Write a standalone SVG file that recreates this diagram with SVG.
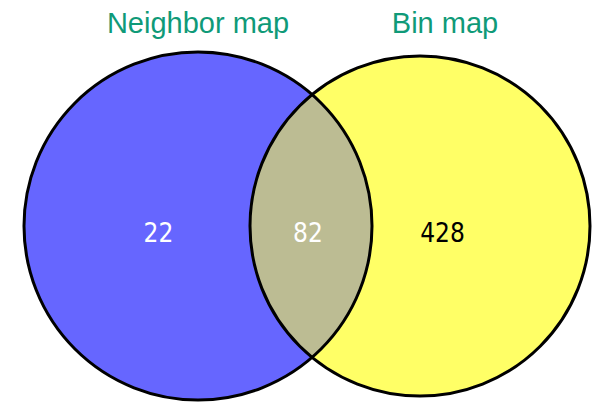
<svg xmlns="http://www.w3.org/2000/svg" width="592" height="403" viewBox="0 0 592 403">
<style>
.title{font-family:"Liberation Sans",Arial,sans-serif;font-size:29px;fill:#0f9a78;text-anchor:middle}
.num{font-family:"DejaVu Sans Condensed","DejaVu Sans",sans-serif;font-stretch:condensed;font-size:26px;text-anchor:middle}
.edge{fill:none;stroke:#000;stroke-width:3}
</style>
<defs>
<clipPath id="clipL"><circle cx="198" cy="226" r="174"/></clipPath>
</defs>
<rect width="592" height="403" fill="#fff"/>
<g id="neighbor">
<circle cx="198" cy="226" r="174" fill="#6666ff"/>
</g>
<g id="bin">
<circle cx="420" cy="226" r="170" fill="#ffff66"/>
</g>
<g id="overlap">
<circle cx="420" cy="226" r="170" fill="#bcbc93" clip-path="url(#clipL)"/>
</g>
<g id="outlines">
<circle class="edge" cx="198" cy="226" r="174"/>
<circle class="edge" cx="420" cy="226" r="170"/>
</g>
<g id="labels">
<text class="title" x="198" y="33">Neighbor map</text>
<text class="title" x="445" y="33">Bin map</text>
<text class="num" x="158.5" y="242" fill="#fff">22</text>
<text class="num" x="308" y="242" fill="#fff">82</text>
<text class="num" x="442.5" y="242" fill="#000">428</text>
</g>
</svg>
